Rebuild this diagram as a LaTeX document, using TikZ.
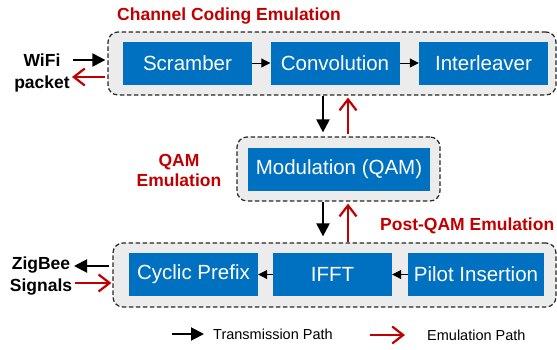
\documentclass[tikz,border=0pt]{standalone}
\usepackage{fontspec}
\setmainfont{Liberation Sans}
\usepackage{tikz}
\usetikzlibrary{arrows.meta}
\usetikzlibrary{positioning}
\definecolor{boxblue}{HTML}{0070C0}
\definecolor{emred}{HTML}{C00000}
\tikzset{block/.style={rectangle,fill=boxblue,text=white,minimum height=43pt,inner sep=0pt,font=\fontsize{20.5}{24}\selectfont}}
\tikzset{group/.style={rectangle,rounded corners=10pt,draw=black!85,dash pattern=on 4.5pt off 2.5pt,line width=1.2pt,fill=gray!15,inner sep=0pt}}
\tikzset{emlabel/.style={text=emred,inner sep=0pt,align=center,font=\fontsize{17.5}{20}\selectfont\bfseries}}
\tikzset{sidetext/.style={inner sep=0pt,align=center,font=\fontsize{17.5}{22}\selectfont\bfseries}}
\tikzset{legend/.style={inner sep=0pt,font=\fontsize{14.5}{17}\selectfont}}
\tikzset{txpath/.style={-{Triangle[length=13pt,width=13pt]},line width=2pt,black}}
\tikzset{empath/.style={-{Straight Barb[length=11pt,width=17pt]},line width=2.2pt,emred}}
\tikzset{innerarrow/.style={-{Triangle[length=9pt,width=9pt]},line width=1pt,black}}

\begin{document}
\begin{tikzpicture}[x=1pt,y=-1pt]
\useasboundingbox (0,0) rectangle (557,349);
% channel coding
\node[group,minimum width=448pt,minimum height=63pt] (cc) at (332,63.5) {};
\node[block,minimum width=129pt] (scr) at (187.5,63) {Scramber};
\node[block,minimum width=129pt] (conv) at (335,63) {Convolution};
\node[block,minimum width=129pt] (intl) at (483.5,63) {Interleaver};
\draw[innerarrow] (scr) -- (conv);
\draw[innerarrow] (conv) -- (intl);
\node[emlabel,anchor=west] (cclabel) at (117,16) {Channel Coding Emulation};

% qam
\node[group,minimum width=203pt,minimum height=64pt] (qam) at (338.5,169) {};
\node[block,minimum width=182pt] (mod) at (339,169.5) {Modulation (QAM)};
\node[emlabel] (qamlabel) at (179,170) {QAM\\Emulation};

% post-qam
\node[group,minimum width=443pt,minimum height=64pt] (ofdm) at (334.5,275) {};
\node[block,minimum width=129pt] (cp) at (193.5,274.5) {Cyclic Prefix};
\node[block,minimum width=119pt] (ifft) at (332.5,274.5) {IFFT};
\node[block,minimum width=136pt] (pilot) at (476,274.5) {Pilot Insertion};
\draw[innerarrow] (pilot) -- (ifft);
\draw[innerarrow] (ifft) -- (cp);
\node[emlabel,anchor=west] (pqlabel) at (380,226) {Post-QAM Emulation};

% vertical paths
\coordinate (txcol) at (323,0);
\coordinate (emcol) at (348,0);
\draw[txpath,shorten >=4pt] (cc.south -| txcol) -- (qam.north -| txcol);
\draw[empath,shorten <=2pt,shorten >=2pt] (qam.north -| emcol) -- (cc.south -| emcol);
\draw[txpath,shorten >=6pt] (qam.south -| txcol) -- (ofdm.north -| txcol);
\draw[empath,shorten >=2pt] (ofdm.north -| emcol) -- (qam.south -| emcol);

% wifi side
\node[sidetext] (wifi) at (42,73) {WiFi\\packet};
\coordinate (win) at (73,60);
\coordinate (wout) at (72,77);
\draw[txpath,shorten >=2pt] (win) -- (cc.west |- win);
\draw[empath,shorten <=2pt] (cc.west |- wout) -- (wout);

% zigbee side
\node[sidetext] (zigbee) at (41,276) {ZigBee\\Signals};
\coordinate (zout) at (74,266);
\coordinate (zin) at (75,283);
\draw[txpath,shorten <=3pt] (ofdm.west |- zout) -- (zout);
\draw[empath,shorten >=1pt] (zin) -- (ofdm.west |- zin);

% legend
\node[legend,anchor=west] (txleg) at (213,334) {Transmission Path};
\node[legend,anchor=west] (emleg) at (427,335) {Emulation Path};
\coordinate (txl) at (172,334);
\coordinate (eml) at (370,335);
\draw[txpath,shorten >=9pt] (txl) -- (txleg.west);
\draw[empath,shorten >=22pt] (eml) -- (emleg.west);
\end{tikzpicture}
\end{document}
